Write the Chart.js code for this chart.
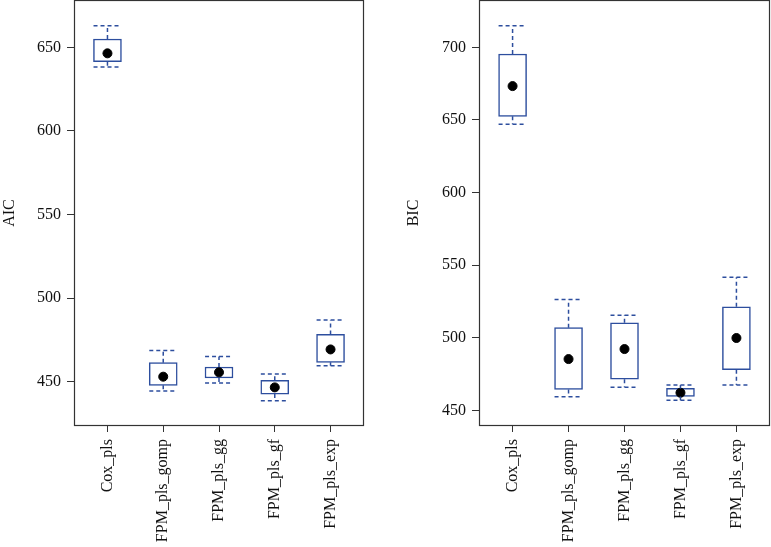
<!DOCTYPE html>
<html>
<head>
<meta charset="utf-8">
<script src="https://cdn.jsdelivr.net/npm/chart.js@4.4.0/dist/chart.umd.min.js"></script>
<style>
body{margin:0;background:#fff;}
#wrap{position:relative;width:771px;height:547px;overflow:hidden;}
.panel{position:absolute;top:0;height:547px;}
#p1{left:0;width:380px;}
#p2{left:380px;width:391px;}
</style>
</head>
<body>
<div id="wrap">
<div class="panel" id="p1"><canvas id="aicChart"></canvas></div>
<div class="panel" id="p2"><canvas id="bicChart"></canvas></div>
</div>
<script>
const models = ["Cox_pls","FPM_pls_gomp","FPM_pls_gg","FPM_pls_gf","FPM_pls_exp"];
const xPos = [1,2,3,4,5];

const aicLow  = [638.2, 444.4, 449.2, 438.6, 459.6];
const aicQ1   = [641.4, 447.8, 452.2, 442.6, 461.6];
const aicQ3   = [655.0, 461.4, 458.8, 450.8, 478.3];
const aicHigh = [662.9, 468.7, 465.1, 454.6, 486.9];
const aicMean = [646.4, 453.0, 455.6, 446.6, 469.3];
const aicTicks = [450,500,550,600,650];
const aicRange = [423.5, 678.3];

const bicLow  = [647.0, 459.4, 465.9, 456.9, 467.4];
const bicQ1   = [652.5, 464.4, 471.4, 459.6, 478.0];
const bicQ3   = [695.4, 506.9, 510.3, 465.1, 521.3];
const bicHigh = [714.9, 526.4, 515.4, 467.4, 541.6];
const bicMean = [673.3, 485.3, 492.2, 462.1, 499.8];
const bicTicks = [450,500,550,600,650,700];
const bicRange = [439.2, 732.6];

const BLUE = "#2d4e9e";
const FONT = "'Liberation Serif', 'Times New Roman', serif";

// whiskers, staples and the frame round the plot
const boxExtras = {
  id:"boxExtras",
  afterDatasetsDraw(chart){
    const o = chart.options.plugins.boxExtras;
    const xs = chart.scales.x, ys = chart.scales.y, ctx = chart.ctx;
    ctx.save();
    ctx.strokeStyle = BLUE;
    ctx.lineWidth = 1.5;
    ctx.setLineDash([4,3]);
    for(let i=0;i<xPos.length;i++){
      const x = xs.getPixelForValue(xPos[i]);
      const xl = xs.getPixelForValue(xPos[i]-0.25);
      const xr = xs.getPixelForValue(xPos[i]+0.25);
      const yHi = ys.getPixelForValue(o.high[i]);
      const yLo = ys.getPixelForValue(o.low[i]);
      const yQ3 = ys.getPixelForValue(o.q3[i]);
      const yQ1 = ys.getPixelForValue(o.q1[i]);
      ctx.beginPath();
      ctx.moveTo(x,yQ3); ctx.lineTo(x,yHi);
      ctx.moveTo(x,yQ1); ctx.lineTo(x,yLo);
      ctx.moveTo(xl,yHi); ctx.lineTo(xr,yHi);
      ctx.moveTo(xl,yLo); ctx.lineTo(xr,yLo);
      ctx.stroke();
    }
    ctx.restore();
  },
  afterDraw(chart){
    const a = chart.chartArea, ctx = chart.ctx;
    ctx.save();
    ctx.strokeStyle = "#333";
    ctx.lineWidth = 1.2;
    ctx.strokeRect(a.left+0.5, a.top+0.5, a.right-a.left-1, a.bottom-a.top-1);
    ctx.restore();
  }
};

function makeChart(id, title, low, q1, q3, high, mean, ticks, range, yWidth, titlePad, padRight){
  return new Chart(document.getElementById(id),{
    type:"bar",
    data:{
      datasets:[
        {
          type:"scatter",
          data:xPos.map((x,i)=>({x:x,y:mean[i]})),
          pointRadius:4.5,
          pointBackgroundColor:"#000",
          pointBorderColor:"#000",
          order:0
        },
        {
          type:"bar",
          data:xPos.map((x,i)=>({x:x,y:[q1[i],q3[i]]})),
          backgroundColor:"#fff",
          borderColor:BLUE,
          borderWidth:1.5,
          borderSkipped:false,
          barThickness:28,
          order:1
        }
      ]
    },
    options:{
      responsive:true,
      maintainAspectRatio:false,
      animation:false,
      layout:{autoPadding:false, padding:{top:0,right:padRight,bottom:0,left:0}},
      plugins:{
        legend:{display:false},
        tooltip:{enabled:false},
        boxExtras:{low:low,q1:q1,q3:q3,high:high}
      },
      scales:{
        x:{
          type:"linear",
          min:0.4, max:5.6,
          offset:false,
          afterBuildTicks(s){ s.ticks = xPos.map(v=>({value:v})); },
          afterFit(s){ s.height = 121; s.paddingLeft = 0; s.paddingRight = 0; },
          border:{display:false},
          grid:{offset:false, drawOnChartArea:false, drawTicks:true, tickLength:6, color:"#333"},
          ticks:{
            autoSkip:false, minRotation:90, maxRotation:90, padding:7,
            color:"#111", font:{family:FONT, size:16},
            callback:(v)=>models[v-1]
          }
        },
        y:{
          type:"linear",
          min:range[0], max:range[1],
          afterBuildTicks(s){ s.ticks = ticks.map(v=>({value:v})); },
          afterFit(s){ s.width = yWidth; s.paddingTop = 0; s.paddingBottom = 0; },
          border:{display:false},
          grid:{drawOnChartArea:false, drawTicks:true, tickLength:7, color:"#333"},
          ticks:{padding:6, color:"#111", font:{family:FONT, size:16}},
          title:{display:true, text:title, color:"#111", font:{family:FONT, size:16}, padding:{top:titlePad,bottom:0}}
        }
      }
    },
    plugins:[boxExtras]
  });
}

makeChart("aicChart","AIC",aicLow,aicQ1,aicQ3,aicHigh,aicMean,aicTicks,aicRange,74,0,16);
makeChart("bicChart","BIC",bicLow,bicQ1,bicQ3,bicHigh,bicMean,bicTicks,bicRange,99,24,1);
</script>
</body>
</html>
